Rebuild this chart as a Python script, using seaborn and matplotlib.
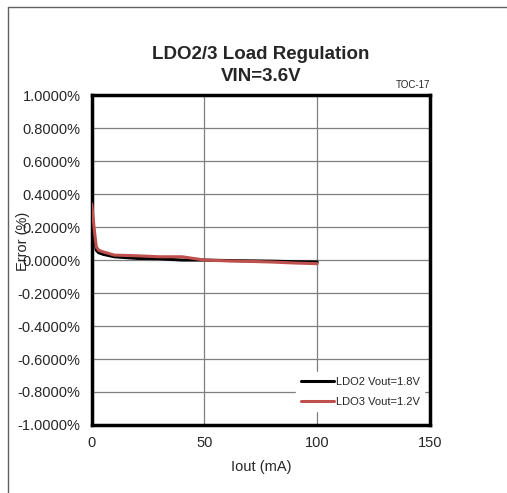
import matplotlib
matplotlib.use("Agg")
import matplotlib.pyplot as plt
import seaborn as sns
import pandas as pd
from matplotlib.lines import Line2D

iout = [0, 1, 2, 3, 5, 10, 20, 30, 40, 50, 60, 70, 80, 90, 100]
ldo2 = [0.30, 0.15, 0.06, 0.045, 0.035, 0.02, 0.01, 0.008, 0.0, 0.0, -0.003, -0.005, -0.007, -0.01, -0.012]
ldo3 = [0.34, 0.20, 0.08, 0.06, 0.05, 0.03, 0.026, 0.02, 0.02, 0.0, -0.005, -0.008, -0.012, -0.018, -0.022]
series_names = ["LDO2 Vout=1.8V", "LDO3 Vout=1.2V"]
yticks = [-1.0, -0.8, -0.6, -0.4, -0.2, 0.0, 0.2, 0.4, 0.6, 0.8, 1.0]
xticks = [0, 50, 100, 150]

df = pd.DataFrame({
    "Iout": iout * 2,
    "Error": ldo2 + ldo3,
    "series": [series_names[0]] * len(iout) + [series_names[1]] * len(iout),
})

sns.set_style("white")
plt.rcParams["font.family"] = ["Liberation Sans", "DejaVu Sans"]

fig = plt.figure(figsize=(5.07, 4.93), dpi=100)
ax = fig.add_axes([0.181, 0.138, 0.667, 0.669])

sns.lineplot(data=df, x="Iout", y="Error", hue="series",
             palette={series_names[0]: "black", series_names[1]: "#c0504d"},
             linewidth=2.2, ax=ax, legend=False, zorder=3)

ax.set_xlim(0, 150)
ax.set_ylim(-1.0, 1.0)
ax.set_xticks(xticks)
ax.set_yticks(yticks)
ax.set_yticklabels([f"{v:.4f}%" for v in yticks])
ax.tick_params(axis="both", labelsize=10.5, length=0, pad=8)
ax.grid(True, color="#7f7f7f", linewidth=0.9)
for s in ax.spines.values():
    s.set_visible(True)
    s.set_color("black")
    s.set_linewidth(2.5)

ax.set_xlabel("Iout (mA)", fontsize=10.5, labelpad=7)
ax.set_ylabel("")
fig.text(0.045, 0.51, "Error (%)", rotation=90, fontsize=10.5, ha="center", va="center")

fig.text(0.515, 0.867, "LDO2/3 Load Regulation\nVIN=3.6V", ha="center", va="center",
         fontsize=13.5, fontweight="bold", linespacing=1.35)
fig.text(0.848, 0.818, "TOC-17", ha="right", va="bottom", fontsize=7)

handles = [Line2D([0], [0], color="black", lw=2.2), Line2D([0], [0], color="#c0504d", lw=2.2)]
leg = ax.legend(handles, series_names, loc="lower right", bbox_to_anchor=(1.0, 0.025),
                frameon=True, fontsize=8, handlelength=3.0, handletextpad=0.2,
                borderpad=0.4, labelspacing=0.9)
leg.get_frame().set_facecolor("white")
leg.get_frame().set_edgecolor("white")
leg.get_frame().set_alpha(1)
leg.set_zorder(5)

# outer frame lines (top and left)
fig.add_artist(Line2D([8/507, 1.0], [1 - 7/493, 1 - 7/493], color="#606060", lw=1.0, transform=fig.transFigure))
fig.add_artist(Line2D([8/507, 8/507], [0, 1 - 7/493], color="#606060", lw=1.0, transform=fig.transFigure))

fig.savefig("out.png", dpi=100)
